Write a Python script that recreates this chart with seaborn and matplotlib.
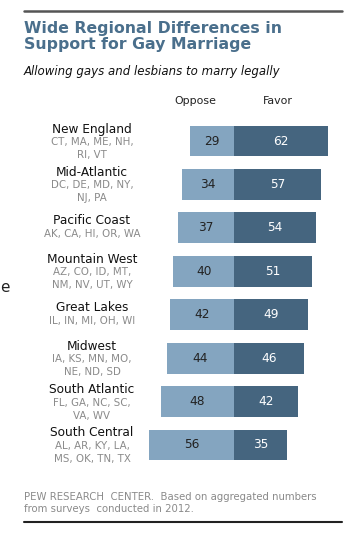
import numpy as np
import pandas as pd
import matplotlib
matplotlib.use('Agg')
import matplotlib.pyplot as plt
import seaborn as sns

# data
regions = ['New England', 'Mid-Atlantic', 'Pacific Coast', 'Mountain West',
           'Great Lakes', 'Midwest', 'South Atlantic', 'South Central']
states = [['CT, MA, ME, NH,', 'RI, VT'],
          ['DC, DE, MD, NY,', 'NJ, PA'],
          ['AK, CA, HI, OR, WA'],
          ['AZ, CO, ID, MT,', 'NM, NV, UT, WY'],
          ['IL, IN, MI, OH, WI'],
          ['IA, KS, MN, MO,', 'NE, ND, SD'],
          ['FL, GA, NC, SC,', 'VA, WV'],
          ['AL, AR, KY, LA,', 'MS, OK, TN, TX']]
oppose = [29, 34, 37, 40, 42, 44, 48, 56]
favor = [62, 57, 54, 51, 49, 46, 42, 35]

df = pd.DataFrame({'region': regions, 'oppose': oppose, 'favor': favor})
df['oppose_neg'] = -df['oppose']

light = '#84a5c0'
dark = '#45657f'
title_col = '#4a6f8c'

sns.set_style('white')
plt.rcParams['font.family'] = ['DejaVu Sans']

W, H = 357, 536
fig = plt.figure(figsize=(W / 100, H / 100), dpi=100)

def fx(px):
    return px / W

def fy(py):
    return 1 - py / H

# axes placed so that the 0 line sits at x=234 px, ~1.52 px per point
ax_l, ax_r = 140, 340
ax_t, ax_b = 119.3, 466.7
ax = fig.add_axes([fx(ax_l), fy(ax_b), (ax_r - ax_l) / W, (ax_b - ax_t) / H])
scale = 1.52
zero = 234
ax.set_xlim(-(zero - ax_l) / scale, (ax_r - zero) / scale)

sns.barplot(data=df, x='oppose_neg', y='region', color=light, orient='h',
            width=0.71, ax=ax, saturation=1, linewidth=0)
sns.barplot(data=df, x='favor', y='region', color=dark, orient='h',
            width=0.71, ax=ax, saturation=1, linewidth=0)
ax.set_ylim(7.5, -0.5)
ax.axis('off')

for i, (o, f) in enumerate(zip(oppose, favor)):
    ax.text(-o / 2, i, str(o), ha='center', va='center', fontsize=8.7, color='#222222')
    ax.text(f / 2, i, str(f), ha='center', va='center', fontsize=8.7, color='white')

# region labels on the left
row_px = (ax_b - ax_t) / 8
for i, (r, st) in enumerate(zip(regions, states)):
    cy = ax_t + row_px * (i + 0.5)
    if len(st) == 2:
        offs = [-12, 1, 14]
    else:
        offs = [-7, 6]
    fig.text(fx(92), fy(cy + offs[0]), r, ha='center', va='center',
             fontsize=8.7, color='#111111')
    for j, s in enumerate(st):
        fig.text(fx(92), fy(cy + offs[j + 1]), s, ha='center', va='center',
                 fontsize=7.4, color='#8a8a8a')

# headers
fig.text(fx(195), fy(101), 'Oppose', ha='center', va='center', fontsize=7.9, color='#222222')
fig.text(fx(278), fy(101), 'Favor', ha='center', va='center', fontsize=7.9, color='#222222')

# title block
fig.add_artist(plt.Line2D([fx(24), fx(342)], [fy(10.5), fy(10.5)], color='#555555', lw=1.8))
fig.text(fx(24), fy(28), 'Wide Regional Differences in', ha='left', va='center',
         fontsize=11.3, fontweight='bold', color=title_col)
fig.text(fx(24), fy(45), 'Support for Gay Marriage', ha='left', va='center',
         fontsize=11.3, fontweight='bold', color=title_col)
fig.text(fx(24), fy(72), 'Allowing gays and lesbians to marry legally', ha='left',
         va='center', fontsize=8.5, style='italic', color='#111111')

# stray fragment at left edge
fig.text(fx(0.5), fy(287), 'e', ha='left', va='center', fontsize=11, color='#222222')

# footer
fig.text(fx(24), fy(497), 'PEW RESEARCH  CENTER.  Based on aggregated numbers',
         ha='left', va='center', fontsize=7.3, color='#8a8a8a')
fig.text(fx(24), fy(509), 'from surveys  conducted in 2012.',
         ha='left', va='center', fontsize=7.3, color='#8a8a8a')
fig.add_artist(plt.Line2D([fx(24), fx(342)], [fy(522), fy(522)], color='#222222', lw=1.5))

fig.savefig('out.png', dpi=100)
